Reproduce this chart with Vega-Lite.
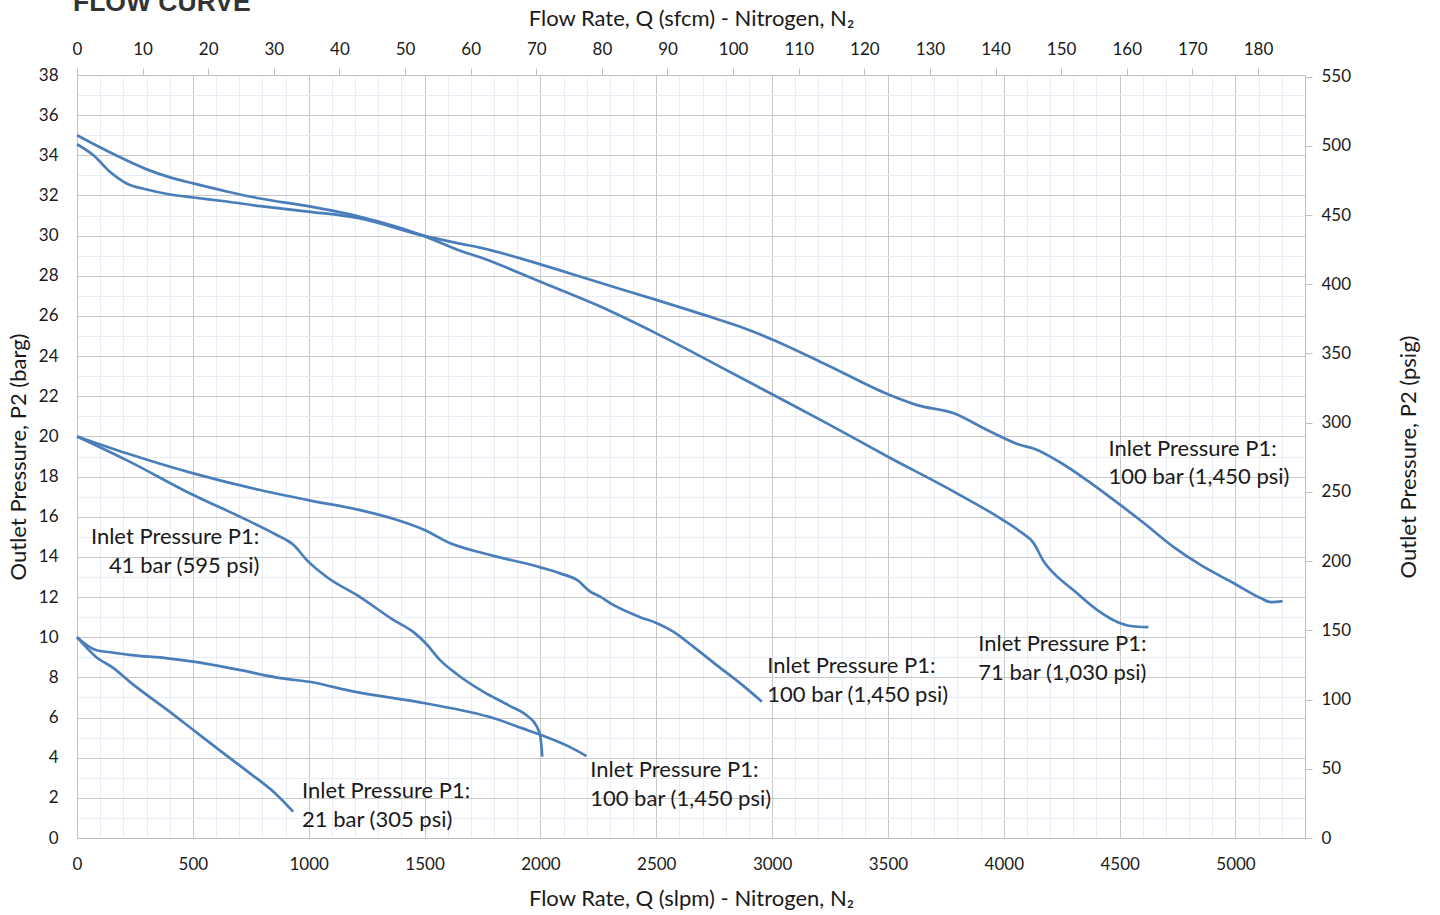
{
  "$schema": "https://vega.github.io/schema/vega-lite/v6.json",
  "width": 1228,
  "height": 763,
  "autosize": {"type": "none"},
  "padding": {"left": 77, "top": 75, "right": 135, "bottom": 77},
  "title": {"text": "FLOW CURVE", "anchor": "start", "frame": "group", "font": "Liberation Sans", "fontSize": 26.5, "fontWeight": "bold", "color": "#333333", "offset": -16, "baseline": "alphabetic", "dx": -4, "dy": 14},
  "config": {"view": {"stroke": null}, "font": "Lato"},
  "datasets": {
    "curves": [
      {"c": "A", "q": 0, "p": 35.0}, {"c": "A", "q": 99, "p": 34.4}, {"c": "A", "q": 186, "p": 33.9}, {"c": "A", "q": 301, "p": 33.3}, {"c": "A", "q": 402, "p": 32.9}, {"c": "A", "q": 502, "p": 32.6}, {"c": "A", "q": 646, "p": 32.2}, {"c": "A", "q": 790, "p": 31.85}, {"c": "A", "q": 997, "p": 31.47}, {"c": "A", "q": 1222, "p": 30.94}, {"c": "A", "q": 1494, "p": 30.0}, {"c": "A", "q": 1654, "p": 29.25}, {"c": "A", "q": 1740, "p": 28.92}, {"c": "A", "q": 2000, "p": 27.7}, {"c": "A", "q": 2244, "p": 26.54}, {"c": "A", "q": 2500, "p": 25.13}, {"c": "A", "q": 2748, "p": 23.64}, {"c": "A", "q": 3000, "p": 22.1}, {"c": "A", "q": 3237, "p": 20.65}, {"c": "A", "q": 3500, "p": 18.99}, {"c": "A", "q": 3784, "p": 17.25}, {"c": "A", "q": 3985, "p": 15.92}, {"c": "A", "q": 4072, "p": 15.25}, {"c": "A", "q": 4128, "p": 14.7}, {"c": "A", "q": 4171, "p": 13.8}, {"c": "A", "q": 4214, "p": 13.2}, {"c": "A", "q": 4300, "p": 12.35}, {"c": "A", "q": 4404, "p": 11.35}, {"c": "A", "q": 4490, "p": 10.76}, {"c": "A", "q": 4547, "p": 10.56}, {"c": "A", "q": 4624, "p": 10.5},
      {"c": "B", "q": 0, "p": 34.55}, {"c": "B", "q": 71, "p": 34.0}, {"c": "B", "q": 142, "p": 33.18}, {"c": "B", "q": 214, "p": 32.6}, {"c": "B", "q": 301, "p": 32.3}, {"c": "B", "q": 402, "p": 32.05}, {"c": "B", "q": 502, "p": 31.9}, {"c": "B", "q": 646, "p": 31.7}, {"c": "B", "q": 790, "p": 31.47}, {"c": "B", "q": 997, "p": 31.2}, {"c": "B", "q": 1222, "p": 30.86}, {"c": "B", "q": 1494, "p": 30.0}, {"c": "B", "q": 1654, "p": 29.6}, {"c": "B", "q": 1740, "p": 29.4}, {"c": "B", "q": 2000, "p": 28.57}, {"c": "B", "q": 2244, "p": 27.7}, {"c": "B", "q": 2500, "p": 26.8}, {"c": "B", "q": 2748, "p": 25.9}, {"c": "B", "q": 2863, "p": 25.46}, {"c": "B", "q": 3000, "p": 24.83}, {"c": "B", "q": 3237, "p": 23.56}, {"c": "B", "q": 3500, "p": 22.1}, {"c": "B", "q": 3626, "p": 21.56}, {"c": "B", "q": 3784, "p": 21.15}, {"c": "B", "q": 3928, "p": 20.32}, {"c": "B", "q": 4072, "p": 19.57}, {"c": "B", "q": 4128, "p": 19.4}, {"c": "B", "q": 4244, "p": 18.7}, {"c": "B", "q": 4361, "p": 17.8}, {"c": "B", "q": 4490, "p": 16.7}, {"c": "B", "q": 4603, "p": 15.7}, {"c": "B", "q": 4732, "p": 14.5}, {"c": "B", "q": 4849, "p": 13.6}, {"c": "B", "q": 4991, "p": 12.7}, {"c": "B", "q": 5108, "p": 11.95}, {"c": "B", "q": 5151, "p": 11.75}, {"c": "B", "q": 5203, "p": 11.8},
      {"c": "C", "q": 0, "p": 20.0}, {"c": "C", "q": 214, "p": 19.16}, {"c": "C", "q": 502, "p": 18.16}, {"c": "C", "q": 790, "p": 17.33}, {"c": "C", "q": 997, "p": 16.83}, {"c": "C", "q": 1222, "p": 16.33}, {"c": "C", "q": 1365, "p": 15.9}, {"c": "C", "q": 1500, "p": 15.34}, {"c": "C", "q": 1611, "p": 14.68}, {"c": "C", "q": 1754, "p": 14.18}, {"c": "C", "q": 2000, "p": 13.48}, {"c": "C", "q": 2085, "p": 13.18}, {"c": "C", "q": 2158, "p": 12.85}, {"c": "C", "q": 2215, "p": 12.27}, {"c": "C", "q": 2258, "p": 12.02}, {"c": "C", "q": 2301, "p": 11.7}, {"c": "C", "q": 2431, "p": 11.0}, {"c": "C", "q": 2503, "p": 10.7}, {"c": "C", "q": 2575, "p": 10.27}, {"c": "C", "q": 2660, "p": 9.53}, {"c": "C", "q": 2762, "p": 8.6}, {"c": "C", "q": 2863, "p": 7.7}, {"c": "C", "q": 2956, "p": 6.79},
      {"c": "D", "q": 0, "p": 20.0}, {"c": "D", "q": 214, "p": 18.82}, {"c": "D", "q": 502, "p": 17.08}, {"c": "D", "q": 718, "p": 15.92}, {"c": "D", "q": 862, "p": 15.09}, {"c": "D", "q": 934, "p": 14.6}, {"c": "D", "q": 992, "p": 13.84}, {"c": "D", "q": 1078, "p": 13.0}, {"c": "D", "q": 1222, "p": 12.0}, {"c": "D", "q": 1360, "p": 10.9}, {"c": "D", "q": 1459, "p": 10.19}, {"c": "D", "q": 1505, "p": 9.7}, {"c": "D", "q": 1567, "p": 8.86}, {"c": "D", "q": 1644, "p": 8.12}, {"c": "D", "q": 1753, "p": 7.29}, {"c": "D", "q": 1861, "p": 6.62}, {"c": "D", "q": 1939, "p": 6.12}, {"c": "D", "q": 1985, "p": 5.54}, {"c": "D", "q": 2000, "p": 5.04}, {"c": "D", "q": 2008, "p": 4.05},
      {"c": "E", "q": 0, "p": 10.0}, {"c": "E", "q": 81, "p": 9.36}, {"c": "E", "q": 143, "p": 9.25}, {"c": "E", "q": 236, "p": 9.11}, {"c": "E", "q": 391, "p": 8.95}, {"c": "E", "q": 502, "p": 8.78}, {"c": "E", "q": 700, "p": 8.37}, {"c": "E", "q": 886, "p": 7.95}, {"c": "E", "q": 1002, "p": 7.78}, {"c": "E", "q": 1196, "p": 7.29}, {"c": "E", "q": 1502, "p": 6.71}, {"c": "E", "q": 1799, "p": 5.96}, {"c": "E", "q": 1923, "p": 5.46}, {"c": "E", "q": 2003, "p": 5.13}, {"c": "E", "q": 2124, "p": 4.55}, {"c": "E", "q": 2199, "p": 4.08},
      {"c": "F", "q": 0, "p": 10.0}, {"c": "F", "q": 81, "p": 9.03}, {"c": "F", "q": 159, "p": 8.45}, {"c": "F", "q": 236, "p": 7.7}, {"c": "F", "q": 391, "p": 6.37}, {"c": "F", "q": 502, "p": 5.38}, {"c": "F", "q": 623, "p": 4.3}, {"c": "F", "q": 747, "p": 3.22}, {"c": "F", "q": 855, "p": 2.23}, {"c": "F", "q": 933, "p": 1.31}
    ],
    "labels": [
      {"t": "Inlet Pressure P1:", "q": 4452, "p": 19.37},
      {"t": "100 bar (1,450 psi)", "q": 4452, "p": 17.98},
      {"t": "Inlet Pressure P1:", "q": 3890, "p": 9.66},
      {"t": "71 bar (1,030 psi)", "q": 3890, "p": 8.22},
      {"t": "Inlet Pressure P1:", "q": 2979, "p": 8.57},
      {"t": "100 bar (1,450 psi)", "q": 2979, "p": 7.12},
      {"t": "Inlet Pressure P1:", "q": 2215, "p": 3.39},
      {"t": "100 bar (1,450 psi)", "q": 2215, "p": 1.94},
      {"t": "Inlet Pressure P1:", "q": 971, "p": 2.34},
      {"t": "21 bar (305 psi)", "q": 971, "p": 0.9},
      {"t": "Inlet Pressure P1:", "q": 60, "p": 14.99},
      {"t": "41 bar (595 psi)", "q": 138, "p": 13.55}
    ],
    "ax2": [{"sf": 0, "psi": 0}]
  },
  "layer": [
    {
      "encoding": {
        "x": {"field": "q", "type": "quantitative", "scale": {"domain": [0, 5300], "nice": false, "zero": false},
          "axis": {"orient": "bottom", "values": [0,100,200,300,400,500,600,700,800,900,1000,1100,1200,1300,1400,1500,1600,1700,1800,1900,2000,2100,2200,2300,2400,2500,2600,2700,2800,2900,3000,3100,3200,3300,3400,3500,3600,3700,3800,3900,4000,4100,4200,4300,4400,4500,4600,4700,4800,4900,5000,5100,5200,5300],
            "format": "d", "labelExpr": "datum.value % 500 === 0 ? datum.label : ''", "labelOverlap": false, "labelFlush": false, "ticks": false,
            "grid": true, "gridColor": {"condition": {"test": "datum.value % 500 === 0", "value": "#c8c8c8"}, "value": "#e8eef7"}, "gridWidth": 1,
            "domainColor": "#c0c0c0", "labelFont": "Lato", "labelFontSize": 17, "labelColor": "#1a1a1a", "labelPadding": 18,
            "title": "Flow Rate, Q (slpm) - Nitrogen, N₂", "titleFont": "Lato", "titleFontSize": 22, "titleFontWeight": "normal", "titleColor": "#1a1a1a", "titlePadding": 16}},
        "y": {"field": "p", "type": "quantitative", "scale": {"domain": [0, 38], "nice": false, "zero": false},
          "axis": {"orient": "left", "values": [0,1,2,3,4,5,6,7,8,9,10,11,12,13,14,15,16,17,18,19,20,21,22,23,24,25,26,27,28,29,30,31,32,33,34,35,36,37,38],
            "format": "d", "labelExpr": "datum.value % 2 === 0 ? datum.label : ''", "labelOverlap": false, "labelFlush": false, "ticks": false,
            "grid": true, "gridColor": {"condition": {"test": "datum.value % 2 === 0", "value": "#c8c8c8"}, "value": "#e8eef7"}, "gridWidth": 1,
            "domainColor": "#c0c0c0", "labelFont": "Lato", "labelFontSize": 17, "labelColor": "#1a1a1a", "labelPadding": 19,
            "title": "Outlet Pressure, P2 (barg)", "titleFont": "Lato", "titleFontSize": 22, "titleFontWeight": "normal", "titleColor": "#1a1a1a", "titlePadding": 8}}
      },
      "layer": [
        {
          "data": {"name": "curves"},
          "mark": {"type": "line", "interpolate": "monotone", "color": "#4A7EBB", "strokeWidth": 2.7},
          "encoding": {"detail": {"field": "c", "type": "nominal"}}
        },
        {
          "data": {"name": "labels"},
          "mark": {"type": "text", "align": "left", "baseline": "middle", "font": "Lato", "fontSize": 22, "color": "#1a1a1a"},
          "encoding": {"text": {"field": "t"}}
        }
      ]
    },
    {
      "data": {"name": "ax2"},
      "mark": {"type": "point", "opacity": 0},
      "encoding": {
        "x": {"field": "sf", "type": "quantitative", "scale": {"domain": [0, 187.168], "nice": false, "zero": false},
          "axis": {"orient": "top", "values": [0,10,20,30,40,50,60,70,80,90,100,110,120,130,140,150,160,170,180], "format": "d", "labelOverlap": false, "labelFlush": false,
            "grid": false, "ticks": true, "tickSize": 7, "tickColor": "#c0c0c0", "domainColor": "#c0c0c0",
            "labelFont": "Lato", "labelFontSize": 17, "labelColor": "#1a1a1a", "labelPadding": 10,
            "title": "Flow Rate, Q (sfcm) - Nitrogen, N₂", "titleFont": "Lato", "titleFontSize": 22, "titleFontWeight": "normal", "titleColor": "#1a1a1a", "titlePadding": 10}},
        "y": {"field": "psi", "type": "quantitative", "scale": {"domain": [0, 551.14], "nice": false, "zero": false},
          "axis": {"orient": "right", "values": [0,50,100,150,200,250,300,350,400,450,500,550], "format": "d", "labelOverlap": false, "labelFlush": false,
            "grid": false, "ticks": true, "tickSize": 7, "tickColor": "#c0c0c0", "domainColor": "#c0c0c0",
            "labelFont": "Lato", "labelFontSize": 17, "labelColor": "#1a1a1a", "labelPadding": 9,
            "title": "Outlet Pressure, P2 (psig)", "titleAngle": 270, "titleFont": "Lato", "titleFontSize": 22, "titleFontWeight": "normal", "titleColor": "#1a1a1a", "titlePadding": 70}}
      }
    }
  ],
  "resolve": {"scale": {"x": "independent", "y": "independent"}}
}
